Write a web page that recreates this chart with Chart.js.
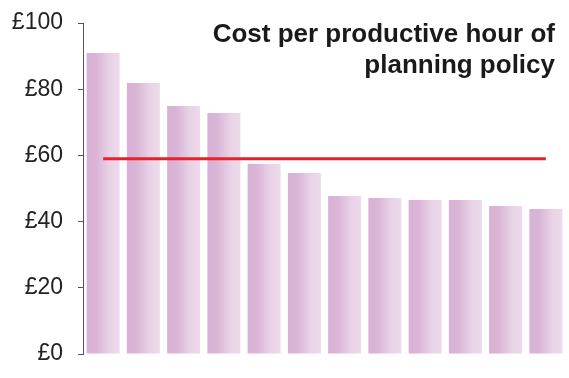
<!DOCTYPE html>
<html>
<head>
<meta charset="utf-8">
<script src="https://cdn.jsdelivr.net/npm/chart.js@4/dist/chart.umd.min.js"></script>
<style>
  html, body { margin: 0; padding: 0; background: #fff; }
  #wrap { width: 569px; height: 378px; position: relative; }
</style>
</head>
<body>
<div id="wrap"><canvas id="myChart"></canvas></div>
<script>
var categories = ["1","2","3","4","5","6","7","8","9","10","11","12"];
var costValues = [90.9, 81.9, 74.9, 72.8, 57.4, 54.7, 47.7, 47.1, 46.5, 46.5, 44.7, 43.8];
var averageValues = [59, 59, 59, 59, 59, 59, 59, 59, 59, 59, 59, 59];
var yTicks = [0, 20, 40, 60, 80, 100];
var titleLines = ["Cost per productive hour of", "planning policy"];

// each bar gets its own left-to-right shading
var barGradient = {
  id: 'barGradient',
  beforeDatasetDraw: function (chart, args) {
    if (args.meta.type !== 'bar') return;
    var ctx = chart.ctx;
    args.meta.data.forEach(function (el) {
      var l = el.x - el.width / 2, r = el.x + el.width / 2;
      var g = ctx.createLinearGradient(l, 0, r, 0);
      g.addColorStop(0, "#d8b1d4");
      g.addColorStop(0.3, "#dab5d7");
      g.addColorStop(0.7, "#e9d3e7");
      g.addColorStop(1, "#eddaeb");
      el.options = Object.assign({}, el.options, { backgroundColor: g });
    });
  }
};

var cornerTitle = {
  id: 'cornerTitle',
  afterDraw: function (chart) {
    var ctx = chart.ctx;
    ctx.save();
    ctx.font = "bold 26px 'Liberation Sans', Arial, sans-serif";
    ctx.fillStyle = "#1a1a1a";
    ctx.textAlign = "right";
    ctx.textBaseline = "alphabetic";
    ctx.fillText(titleLines[0], 555, 42);
    ctx.fillText(titleLines[1], 555, 73);
    ctx.restore();
  }
};

var ctx = document.getElementById("myChart");
var myChart = new Chart(ctx, {
  data: {
    labels: categories,
    datasets: [{
      type: 'line',
      data: averageValues,
      borderColor: "#e8202a",
      borderWidth: 3,
      pointRadius: 0,
      fill: false,
      order: 0
    }, {
      type: 'bar',
      data: costValues,
      backgroundColor: "#e0c2dd",
      categoryPercentage: 1,
      barPercentage: 0.82,
      order: 1
    }]
  },
  options: {
    responsive: true,
    maintainAspectRatio: false,
    animation: false,
    layout: { padding: { left: 10, right: 3, top: 23, bottom: 24 } },
    plugins: { legend: { display: false }, tooltip: { enabled: false } },
    scales: {
      x: { display: false },
      y: {
        min: 0,
        max: 100,
        afterFit: function (scale) {
          scale.width = 73;
          scale.paddingTop = 0;
          scale.paddingBottom = 0;
        },
        afterBuildTicks: function (scale) {
          scale.ticks = yTicks.map(function (v) { return { value: v }; });
        },
        border: { display: true, color: "#555", width: 1 },
        grid: { drawOnChartArea: false, tickLength: 5, color: "#555" },
        ticks: {
          padding: 15,
          color: "#222",
          font: { family: "'Liberation Sans', Arial, sans-serif", size: 23 },
          callback: function (v) { return "£" + v; }
        }
      }
    }
  },
  plugins: [barGradient, cornerTitle]
});
</script>
</body>
</html>
